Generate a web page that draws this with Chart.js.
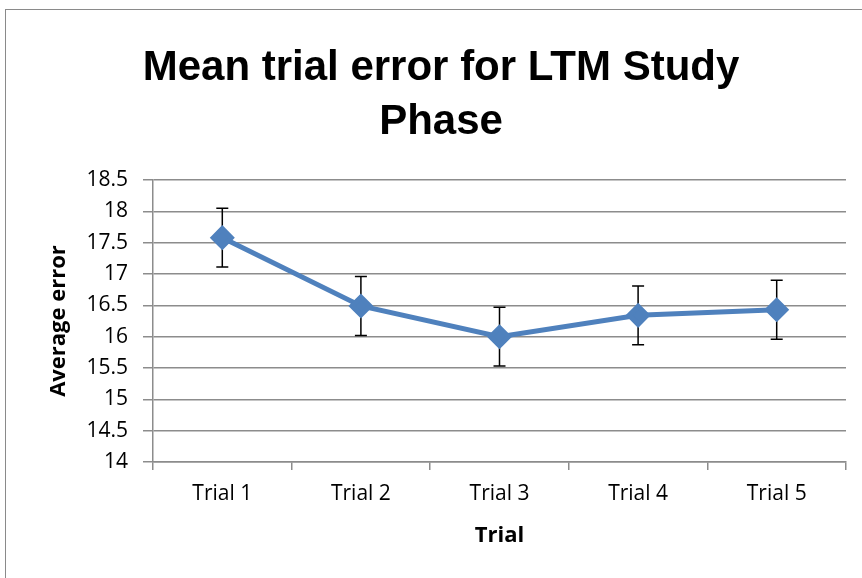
<!DOCTYPE html>
<html>
<head>
<meta charset="utf-8">
<script src="https://cdn.jsdelivr.net/npm/chart.js@4"></script>
<style>
  body { margin: 0; background: #fff; }
  #frame { position: absolute; left: 5px; top: 9px; width: 900px; height: 600px; border: 1px solid #8a8a8a; }
  #wrap { position: absolute; left: 0; top: 0; width: 862px; height: 578px; }
</style>
</head>
<body>
<div id="frame"></div>
<div id="wrap"><canvas id="chart" width="862" height="578"></canvas></div>
<script>
// données
const trials = ['Trial 1', 'Trial 2', 'Trial 3', 'Trial 4', 'Trial 5'];
const meanError = [17.58, 16.49, 16.0, 16.34, 16.43];
const errorBars = [0.47, 0.47, 0.47, 0.47, 0.47];
const titleLines = ['Mean trial error for LTM Study', 'Phase'];

const gridGray = '#8c8c8c';
const blue = '#4F81BD';

// titre dessiné à la main pour le centrer comme l'original
const titlePlugin = {
  id: 'bigTitle',
  afterDraw(chart) {
    const ctx = chart.ctx;
    ctx.save();
    ctx.fillStyle = '#000';
    ctx.font = 'bold 42px "Liberation Sans", sans-serif';
    ctx.textAlign = 'center';
    ctx.textBaseline = 'alphabetic';
    ctx.fillText(titleLines[0], 441, 80);
    ctx.fillText(titleLines[1], 441, 134);
    ctx.restore();
  }
};

// barres d'erreur (sous les marqueurs)
const errorBarPlugin = {
  id: 'errorBars',
  beforeDatasetsDraw(chart) {
    const ctx = chart.ctx;
    const x = chart.scales.x, y = chart.scales.y;
    ctx.save();
    ctx.strokeStyle = '#000';
    ctx.lineWidth = 1.5;
    meanError.forEach((v, i) => {
      const px = x.getPixelForValue(i);
      const top = y.getPixelForValue(v + errorBars[i]);
      const bot = y.getPixelForValue(v - errorBars[i]);
      ctx.beginPath();
      ctx.moveTo(px, top); ctx.lineTo(px, bot);
      ctx.moveTo(px - 6, top); ctx.lineTo(px + 6, top);
      ctx.moveTo(px - 6, bot); ctx.lineTo(px + 6, bot);
      ctx.stroke();
    });
    ctx.restore();
  }
};

const ctx = document.getElementById('chart').getContext('2d');
new Chart(ctx, {
  type: 'line',
  data: {
    labels: trials,
    datasets: [{
      label: 'Average error',
      data: meanError,
      borderColor: blue,
      backgroundColor: blue,
      borderWidth: 5,
      pointStyle: 'rectRot',
      pointRadius: 9,
      pointHoverRadius: 9,
      tension: 0
    }]
  },
  options: {
    responsive: false,
    animation: false,
    layout: { padding: { left: 0, right: 16, top: 180, bottom: 0 } },
    plugins: {
      legend: { display: false },
      tooltip: { enabled: false }
    },
    scales: {
      x: {
        offset: true,
        afterFit(scale) { scale.height = 116; },
        grid: { display: true, drawOnChartArea: false, offset: true, tickLength: 8, color: gridGray, lineWidth: 1.5 },
        border: { color: gridGray, width: 1.5 },
        ticks: { color: '#000', padding: 11, font: { family: '"Open Sans", sans-serif', size: 21 } },
        title: {
          display: true, text: 'Trial', color: '#000',
          padding: { top: 4, bottom: 29 },
          font: { family: '"Open Sans", sans-serif', size: 22, weight: 'bold' }
        }
      },
      y: {
        min: 14,
        max: 18.5,
        afterFit(scale) { scale.width = 153; },
        grid: { color: gridGray, lineWidth: 1.5, tickLength: 10 },
        border: { color: gridGray, width: 1.5 },
        ticks: {
          stepSize: 0.5, color: '#000', padding: 15,
          font: { family: '"Open Sans", sans-serif', size: 21 },
          callback: (v) => String(v)
        },
        title: {
          display: true, text: 'Average error', color: '#000',
          padding: { top: 46, bottom: 0 },
          font: { family: '"Open Sans", sans-serif', size: 22, weight: 'bold' }
        }
      }
    }
  },
  plugins: [errorBarPlugin, titlePlugin]
});
</script>
</body>
</html>
